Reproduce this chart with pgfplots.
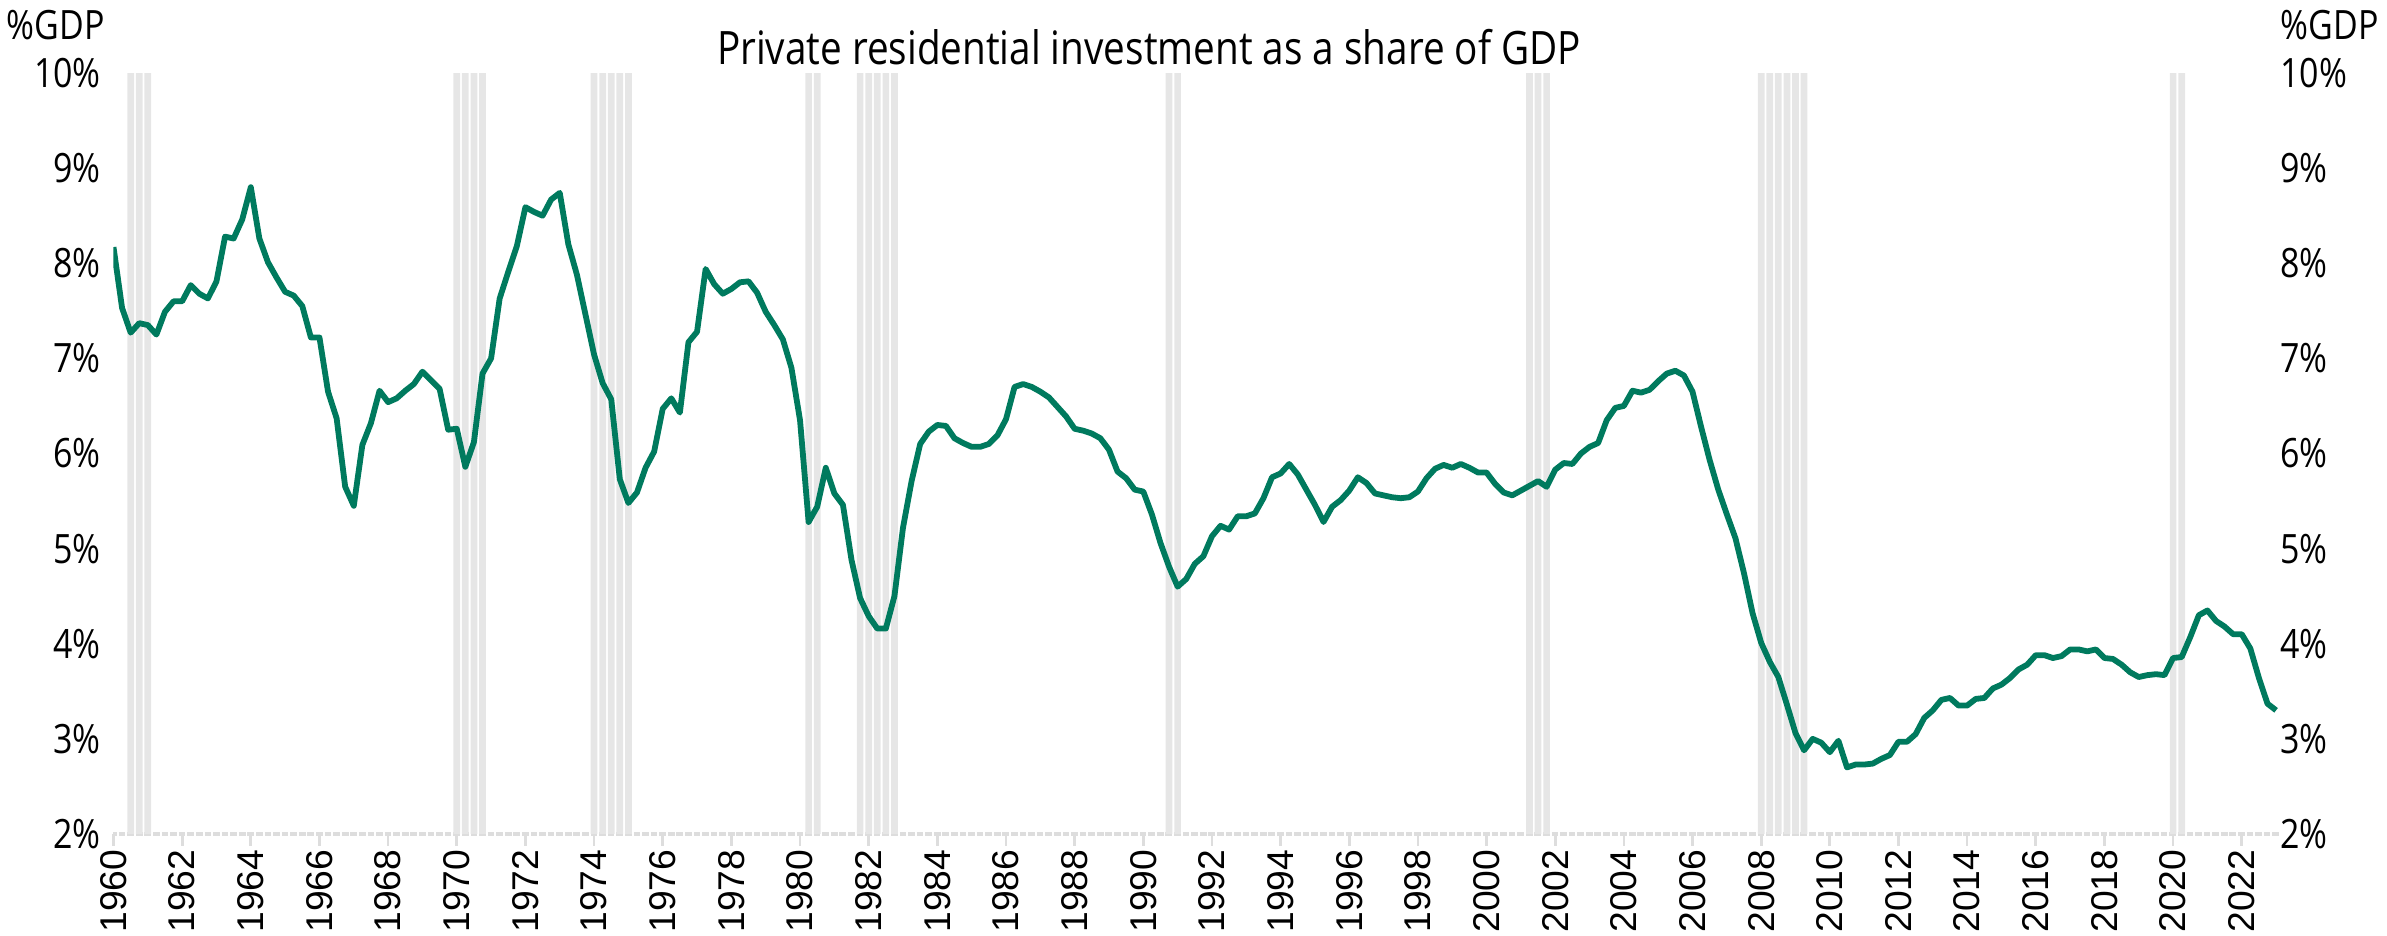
\documentclass[border=0pt]{standalone}
\usepackage{fontspec}
\setmainfont{Open Sans}[FakeStretch=0.84]
\newfontfamily\xfont{Liberation Sans}
\usepackage{pgfplots}
\pgfplotsset{compat=1.18}
\usepackage{pgfplotstable}
\definecolor{linegreen}{HTML}{007A5E}
\definecolor{recgray}{HTML}{E6E6E6}
\definecolor{axgray}{HTML}{DDDDDD}
\newcommand\xl[1]{{\xfont #1}}

\pgfplotstableread{
t v
1960.00 8.17
1960.25 7.53
1960.50 7.27
1960.75 7.37
1961.00 7.35
1961.25 7.25
1961.50 7.49
1961.75 7.60
1962.00 7.60
1962.25 7.77
1962.50 7.68
1962.75 7.63
1963.00 7.81
1963.25 8.28
1963.50 8.26
1963.75 8.46
1964.00 8.80
1964.25 8.26
1964.50 8.01
1964.75 7.85
1965.00 7.70
1965.25 7.66
1965.50 7.55
1965.75 7.22
1966.00 7.22
1966.25 6.65
1966.50 6.37
1966.75 5.65
1967.00 5.45
1967.25 6.09
1967.50 6.32
1967.75 6.66
1968.00 6.54
1968.25 6.58
1968.50 6.66
1968.75 6.73
1969.00 6.86
1969.25 6.77
1969.50 6.68
1969.75 6.25
1970.00 6.26
1970.25 5.86
1970.50 6.12
1970.75 6.84
1971.00 7.00
1971.25 7.63
1971.50 7.91
1971.75 8.18
1972.00 8.59
1972.25 8.54
1972.50 8.50
1972.75 8.67
1973.00 8.74
1973.25 8.20
1973.50 7.88
1973.75 7.46
1974.00 7.04
1974.25 6.74
1974.50 6.57
1974.75 5.73
1975.00 5.48
1975.25 5.59
1975.50 5.85
1975.75 6.02
1976.00 6.47
1976.25 6.58
1976.50 6.43
1976.75 7.17
1977.00 7.28
1977.25 7.94
1977.50 7.78
1977.75 7.68
1978.00 7.73
1978.25 7.80
1978.50 7.81
1978.75 7.69
1979.00 7.49
1979.25 7.35
1979.50 7.20
1979.75 6.90
1980.00 6.35
1980.25 5.28
1980.50 5.44
1980.75 5.85
1981.00 5.58
1981.25 5.46
1981.50 4.88
1981.75 4.48
1982.00 4.29
1982.25 4.16
1982.50 4.16
1982.75 4.50
1983.00 5.22
1983.25 5.71
1983.50 6.10
1983.75 6.23
1984.00 6.30
1984.25 6.29
1984.50 6.16
1984.75 6.11
1985.00 6.07
1985.25 6.07
1985.50 6.10
1985.75 6.19
1986.00 6.36
1986.25 6.70
1986.50 6.73
1986.75 6.70
1987.00 6.65
1987.25 6.59
1987.50 6.49
1987.75 6.39
1988.00 6.26
1988.25 6.24
1988.50 6.21
1988.75 6.16
1989.00 6.04
1989.25 5.81
1989.50 5.74
1989.75 5.62
1990.00 5.60
1990.25 5.36
1990.50 5.06
1990.75 4.81
1991.00 4.60
1991.25 4.68
1991.50 4.84
1991.75 4.92
1992.00 5.13
1992.25 5.24
1992.50 5.20
1992.75 5.34
1993.00 5.34
1993.25 5.37
1993.50 5.53
1993.75 5.75
1994.00 5.79
1994.25 5.89
1994.50 5.78
1994.75 5.62
1995.00 5.46
1995.25 5.28
1995.50 5.44
1995.75 5.51
1996.00 5.61
1996.25 5.75
1996.50 5.69
1996.75 5.58
1997.00 5.56
1997.25 5.54
1997.50 5.53
1997.75 5.54
1998.00 5.60
1998.25 5.74
1998.50 5.84
1998.75 5.88
1999.00 5.85
1999.25 5.89
1999.50 5.85
1999.75 5.80
2000.00 5.80
2000.25 5.68
2000.50 5.59
2000.75 5.56
2001.00 5.61
2001.25 5.66
2001.50 5.71
2001.75 5.65
2002.00 5.83
2002.25 5.90
2002.50 5.89
2002.75 6.00
2003.00 6.07
2003.25 6.11
2003.50 6.35
2003.75 6.48
2004.00 6.50
2004.25 6.66
2004.50 6.64
2004.75 6.67
2005.00 6.76
2005.25 6.84
2005.50 6.87
2005.75 6.82
2006.00 6.65
2006.25 6.28
2006.50 5.93
2006.75 5.62
2007.00 5.36
2007.25 5.11
2007.50 4.74
2007.75 4.32
2008.00 4.01
2008.25 3.81
2008.50 3.65
2008.75 3.36
2009.00 3.06
2009.25 2.88
2009.50 3.00
2009.75 2.96
2010.00 2.86
2010.25 2.98
2010.50 2.70
2010.75 2.73
2011.00 2.73
2011.25 2.74
2011.50 2.79
2011.75 2.83
2012.00 2.97
2012.25 2.97
2012.50 3.05
2012.75 3.22
2013.00 3.30
2013.25 3.41
2013.50 3.43
2013.75 3.35
2014.00 3.35
2014.25 3.42
2014.50 3.43
2014.75 3.53
2015.00 3.57
2015.25 3.64
2015.50 3.73
2015.75 3.78
2016.00 3.88
2016.25 3.88
2016.50 3.85
2016.75 3.87
2017.00 3.94
2017.25 3.94
2017.50 3.92
2017.75 3.94
2018.00 3.85
2018.25 3.84
2018.50 3.78
2018.75 3.70
2019.00 3.65
2019.25 3.67
2019.50 3.68
2019.75 3.67
2020.00 3.85
2020.25 3.86
2020.50 4.07
2020.75 4.30
2021.00 4.35
2021.25 4.24
2021.50 4.18
2021.75 4.10
2022.00 4.10
2022.25 3.95
2022.50 3.64
2022.75 3.37
2023.00 3.30
}\resdata

\pgfplotstableread{
t r
1960.50 10
1960.75 10
1961.00 10
1970.00 10
1970.25 10
1970.50 10
1970.75 10
1974.00 10
1974.25 10
1974.50 10
1974.75 10
1975.00 10
1980.25 10
1980.50 10
1981.75 10
1982.00 10
1982.25 10
1982.50 10
1982.75 10
1990.75 10
1991.00 10
2001.25 10
2001.50 10
2001.75 10
2008.00 10
2008.25 10
2008.50 10
2008.75 10
2009.00 10
2009.25 10
2020.00 10
2020.25 10
}\recdata

\begin{document}
\begin{tikzpicture}[x=1mm,y=1mm]
\path[use as bounding box] (0,0) rectangle (238.7,93.6);
\begin{axis}[
  at={(11.35mm,10.2mm)}, anchor=south west,
  scale only axis, width=216.6mm, height=76.1mm,
  xmin=1960, xmax=2023.1, ymin=2, ymax=10,
  axis x line*=bottom, axis y line*=left,
  y axis line style={draw=none},
  x axis line style={draw=axgray, line width=0.33mm, dash pattern=on 0.67mm off 0.188mm, dash phase=0.335mm},
  xtick={1960,1962,...,2022},
  xticklabels={\xl{1960},\xl{1962},\xl{1964},\xl{1966},\xl{1968},\xl{1970},\xl{1972},\xl{1974},\xl{1976},\xl{1978},\xl{1980},\xl{1982},\xl{1984},\xl{1986},\xl{1988},\xl{1990},\xl{1992},\xl{1994},\xl{1996},\xl{1998},\xl{2000},\xl{2002},\xl{2004},\xl{2006},\xl{2008},\xl{2010},\xl{2012},\xl{2014},\xl{2016},\xl{2018},\xl{2020},\xl{2022}},
  ytick={2,3,4,5,6,7,8,9,10},
  yticklabels={2\%,3\%,4\%,5\%,6\%,7\%,8\%,9\%,10\%},
  tick align=outside,
  major tick length=1.2mm,
  xtick style={draw=axgray, line width=0.27mm},
  ytick style={draw=none},
  xticklabel style={rotate=90, anchor=east, inner sep=0pt, xshift=-0.3mm, font=\fontsize{10.6}{12}\selectfont},
  yticklabel style={anchor=east, inner sep=0pt, font=\fontsize{11.5}{13}\selectfont},
]
\addplot[ybar, bar width=0.67mm, bar shift=0pt, fill=recgray, draw=none] table[x=t, y=r] {\recdata};
\addplot[linegreen, line width=0.58mm, line join=round, no marks] table[x=t, y=v] {\resdata};
\end{axis}
\begin{axis}[
  at={(11.35mm,10.2mm)}, anchor=south west,
  scale only axis, width=216.6mm, height=76.1mm,
  xmin=1960, xmax=2023.1, ymin=2, ymax=10,
  hide x axis,
  axis y line*=right,
  y axis line style={draw=none},
  ytick={2,3,4,5,6,7,8,9,10},
  yticklabels={2\%,3\%,4\%,5\%,6\%,7\%,8\%,9\%,10\%},
  ytick style={draw=none},
  yticklabel style={anchor=west, inner sep=0pt, font=\fontsize{11.5}{13}\selectfont},
]
\end{axis}
\node[anchor=base, font=\fontsize{13.1}{15}\selectfont] at (114.9,87.1) {Private residential investment as a share of GDP};
\node[anchor=base west, inner sep=0pt, font=\fontsize{11.5}{13}\selectfont] at (0.6,89.6) {\%GDP};
\node[anchor=base west, inner sep=0pt, font=\fontsize{11.5}{13}\selectfont] at (228.0,89.6) {\%GDP};
\end{tikzpicture}
\end{document}
